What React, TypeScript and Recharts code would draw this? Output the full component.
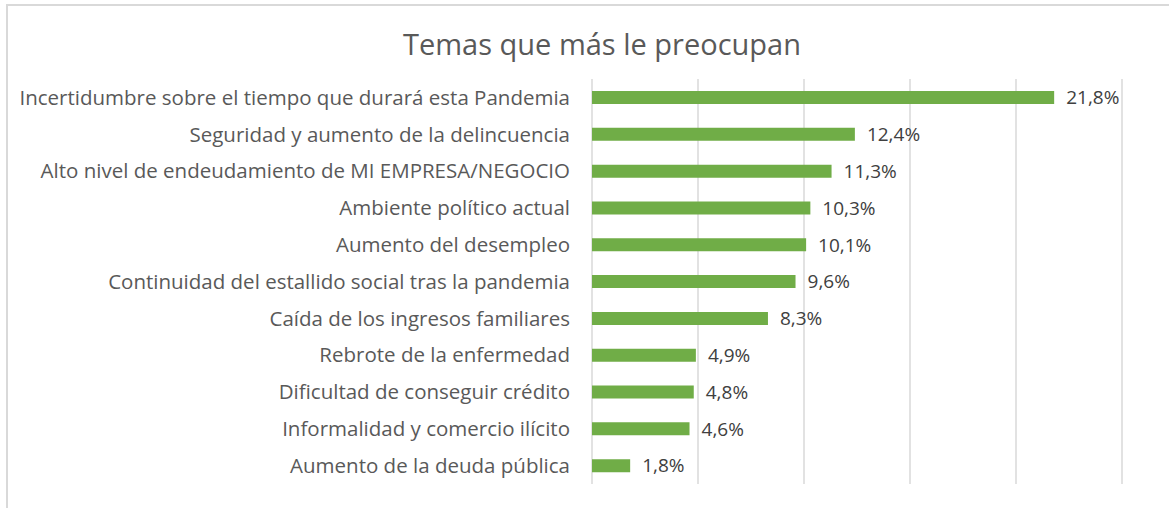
import React from 'react';
import { BarChart, Bar, XAxis, YAxis, CartesianGrid, LabelList } from 'recharts';

const temas = [
  'Incertidumbre sobre el tiempo que durará esta Pandemia',
  'Seguridad y aumento de la delincuencia',
  'Alto nivel de endeudamiento de MI EMPRESA/NEGOCIO',
  'Ambiente político actual',
  'Aumento del desempleo',
  'Continuidad del estallido social tras la pandemia',
  'Caída de los ingresos familiares',
  'Rebrote de la enfermedad',
  'Dificultad de conseguir crédito',
  'Informalidad y comercio ilícito',
  'Aumento de la deuda pública',
];

const porcentajes = [21.8, 12.4, 11.3, 10.3, 10.1, 9.6, 8.3, 4.9, 4.8, 4.6, 1.8];

const xTicks = [0, 5, 10, 15, 20, 25];

const data = temas.map((tema, i) => ({ tema, valor: porcentajes[i] }));

const FONT = '"Open Sans", "Noto Sans", sans-serif';

const fmt = (v: any) => `${Number(v).toFixed(1).replace('.', ',')}%`;

export default function App() {
  return (
    <div style={{ position: 'absolute', left: 0, top: 0, width: 1169, height: 508, background: '#fff', fontFamily: FONT }}>
      {/* marco del gráfico */}
      <div style={{ position: 'absolute', left: 6, top: 4, right: 0, bottom: 0, borderLeft: '2px solid #d9d9d9', borderTop: '2px solid #d9d9d9' }} />
      <div
        style={{
          position: 'absolute',
          top: 25,
          left: 0,
          width: 1204,
          textAlign: 'center',
          fontSize: 29,
          color: '#595959',
          lineHeight: '38px',
        }}
      >
        Temas que más le preocupan
      </div>
      <div style={{ position: 'absolute', left: 0, top: 0 }}>
        <BarChart
          width={1169}
          height={508}
          data={data}
          layout="vertical"
          margin={{ top: 79, right: 47, bottom: 24, left: 0 }}
        >
          <CartesianGrid horizontal={false} vertical={true} stroke="#d9d9d9" strokeWidth={1.5} />
          <XAxis type="number" domain={[0, 25]} ticks={xTicks} hide />
          <YAxis
            type="category"
            dataKey="tema"
            width={592}
            axisLine={false}
            tickLine={false}
            tickSize={0}
            tickMargin={22}
            interval={0}
            tick={{ fontSize: 20.5, fill: '#595959', fontFamily: FONT }}
          />
          <Bar dataKey="valor" fill="#70ad47" barSize={13} isAnimationActive={false}>
            <LabelList
              dataKey="valor"
              position="right"
              offset={12}
              formatter={fmt}
              style={{ fontSize: 19, fill: '#404040', fontFamily: FONT }}
            />
          </Bar>
        </BarChart>
      </div>
    </div>
  );
}
